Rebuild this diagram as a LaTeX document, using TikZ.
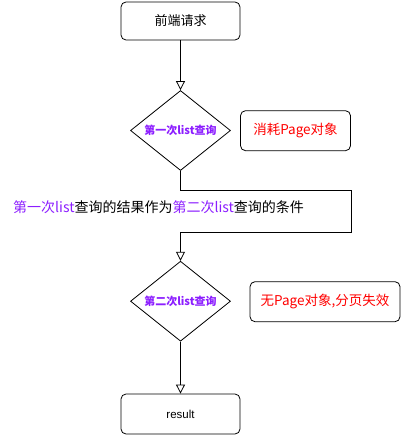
\documentclass[tikz,border=0pt]{standalone}
\usepackage{fontspec}
\setmainfont{Noto Sans CJK SC}
\newfontfamily\latinfont{Liberation Sans}
\usetikzlibrary{shapes.geometric,arrows.meta}
\definecolor{purp}{RGB}{140,30,255}
\definecolor{redt}{RGB}{255,0,0}
\tikzset{
  x=1pt,y=1pt,
  rbox/.style={draw,line width=0.8pt,rounded corners=5pt,inner sep=0pt},
  dia/.style={draw,line width=0.8pt,diamond,shape aspect=1.25,inner sep=0pt,minimum width=100pt,minimum height=80pt,font=\fontsize{11}{13}\selectfont\bfseries,text=purp},
  conn/.style={line width=0.8pt},
  arr/.style={conn,-{Triangle[open,length=9pt,width=9pt,fill=white]}},
}
\begin{document}
\begin{tikzpicture}
\useasboundingbox (0,0) rectangle (402,-436);
\node[rbox,minimum width=119pt,minimum height=38pt,font=\fontsize{13}{15}\selectfont] (start) at (180.5,-21) {前端请求};
\node[dia] (d1) at (180.5,-130.5) {第一次list查询};
\node[rbox,minimum width=110pt,minimum height=40pt,font=\fontsize{13.5}{15}\selectfont,text=redt] (b1) at (295.5,-130.7) {消耗Page对象};
\node[dia] (d2) at (180.5,-301.2) {第二次list查询};
\node[rbox,minimum width=150pt,minimum height=40pt,font=\fontsize{13.5}{15}\selectfont,text=redt] (b2) at (325,-301.7) {无Page对象,分页失效};
\node[rbox,minimum width=119pt,minimum height=40pt,font=\latinfont\fontsize{11.5}{13}\selectfont] (res) at (180.5,-414) {result};
\node[anchor=west,inner sep=0pt,font=\fontsize{14}{16}\selectfont] (lbl) at (13,-207) {\textcolor{purp}{第一次list}查询的结果作为\textcolor{purp}{第二次list}查询的条件};
\coordinate (c1) at (351,-190);
\coordinate (c2) at (351,-232);
\draw[arr] (start.south) -- (d1.north);
\draw[arr] (d1.south) |- (c1) -- (c2) -| (d2.north);
\draw[arr] (d2.south) -- (res.north);
\end{tikzpicture}
\end{document}
